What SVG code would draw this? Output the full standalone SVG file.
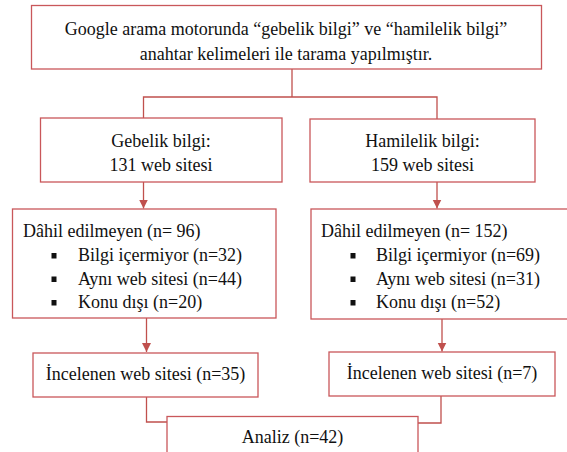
<svg xmlns="http://www.w3.org/2000/svg" width="567" height="452" viewBox="0 0 567 452">
<defs>
<style>
.box{fill:#ffffff;stroke:#c9575a;stroke-width:1.3}
.ln{fill:none;stroke:#c0504d;stroke-width:1.3}
.t{font-family:'Liberation Serif',serif;font-size:18px;fill:#111111}
.c{text-anchor:middle}
.b{fill:#111111}
</style>
<marker id="ah" markerUnits="userSpaceOnUse" markerWidth="10" markerHeight="10" viewBox="0 0 10 10" refX="9" refY="5" orient="auto">
<path d="M0,0.5 L9,5 L0,9.5 Z" fill="#c0504d"/>
</marker>
</defs>
<rect width="567" height="452" fill="#ffffff"/>
<g id="connectors">
<path class="ln" d="M292,69 V97"/>
<path class="ln" d="M143.5,118 V97 H437 V119"/>
<path class="ln" d="M143.5,182 V208.5" marker-end="url(#ah)"/>
<path class="ln" d="M437,182 V208.5" marker-end="url(#ah)"/>
<path class="ln" d="M146.5,318 V352" marker-end="url(#ah)"/>
<path class="ln" d="M442,319 V351.5" marker-end="url(#ah)"/>
<path class="ln" d="M146.5,397 V422 H167"/>
<path class="ln" d="M441,396 V423 H418"/>
</g>
<g class="t" font-family="Liberation Serif, serif" font-size="18">
<g id="top">
<rect class="box" x="31.5" y="5.5" width="510" height="63.5"/>
<text class="c" x="286" y="35">Google arama motorunda “gebelik bilgi” ve “hamilelik bilgi”</text>
<text class="c" x="286" y="60">anahtar kelimeleri ile tarama yapılmıştır.</text>
</g>
<g id="gebelik">
<rect class="box" x="40.5" y="118" width="241.5" height="64"/>
<text class="c" x="161" y="147">Gebelik bilgi:</text>
<text class="c" x="161" y="171">131 web sitesi</text>
</g>
<g id="hamilelik">
<rect class="box" x="310" y="119" width="225" height="63"/>
<text class="c" x="422.5" y="147">Hamilelik bilgi:</text>
<text class="c" x="422.5" y="171">159 web sitesi</text>
</g>
<g id="dahil-left">
<rect class="box" x="12.5" y="209" width="263.5" height="109"/>
<text x="23" y="237">Dâhil edilmeyen (n= 96)</text>
<rect class="b" x="51.5" y="253" width="5" height="5.5"/>
<text x="78" y="261">Bilgi içermiyor (n=32)</text>
<rect class="b" x="51.5" y="276.5" width="5" height="5.5"/>
<text x="78" y="284.5">Aynı web sitesi (n=44)</text>
<rect class="b" x="51.5" y="300" width="5" height="5.5"/>
<text x="78" y="308">Konu dışı (n=20)</text>
</g>
<g id="dahil-right">
<rect class="box" x="311" y="209" width="270" height="110"/>
<text x="321" y="237">Dâhil edilmeyen (n= 152)</text>
<rect class="b" x="350.5" y="253" width="5" height="5.5"/>
<text x="376" y="261">Bilgi içermiyor (n=69)</text>
<rect class="b" x="350.5" y="276.5" width="5" height="5.5"/>
<text x="376" y="284.5">Aynı web sitesi (n=31)</text>
<rect class="b" x="350.5" y="300" width="5" height="5.5"/>
<text x="376" y="308">Konu dışı (n=52)</text>
</g>
<g id="incelenen-left">
<rect class="box" x="33" y="353" width="225" height="44"/>
<text class="c" x="145.5" y="380">İncelenen web sitesi (n=35)</text>
</g>
<g id="incelenen-right">
<rect class="box" x="329" y="352" width="226" height="44"/>
<text class="c" x="442" y="379">İncelenen web sitesi (n=7)</text>
</g>
<g id="analiz">
<rect class="box" x="167" y="416.5" width="251" height="45"/>
<text class="c" x="292.5" y="443">Analiz (n=42)</text>
</g>
</g>
</svg>
